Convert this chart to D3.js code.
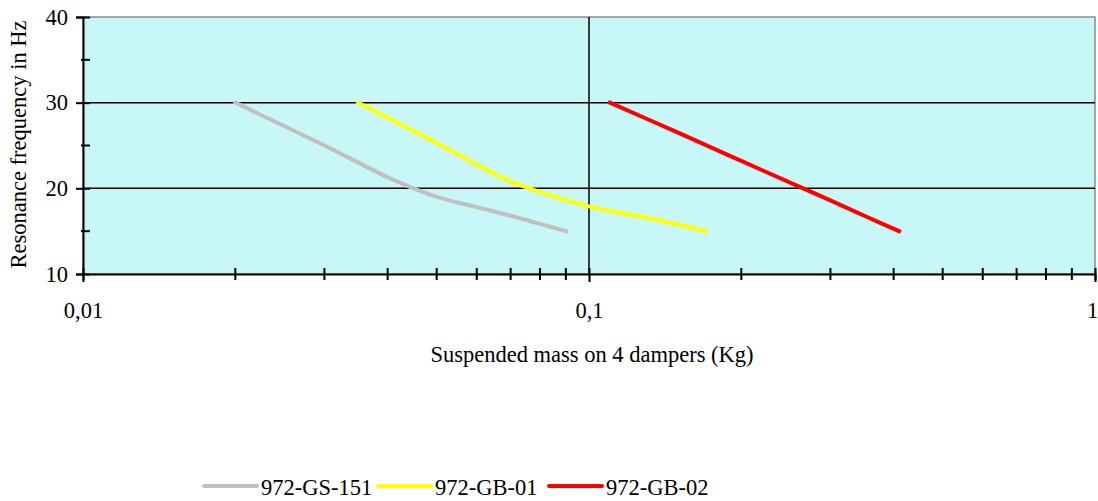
<!DOCTYPE html>
<html><head><meta charset="utf-8">
<script src="https://cdn.jsdelivr.net/npm/d3@7"></script>
<style>body{margin:0;background:#fff}svg{display:block}text{font-family:"Liberation Serif","DejaVu Serif",serif;fill:#000}</style>
</head><body><svg id="c" width="1098" height="501"></svg>
<script>
const seriesNames = ["972-GS-151", "972-GB-01", "972-GB-02"];
const seriesColors = ["#c0c0c0", "#ffff00", "#ff0000"];
const gsMass = [0.02, 0.03, 0.04, 0.045, 0.05, 0.06, 0.07, 0.08, 0.09];
const gsFreq = [30, 25.0, 21.3, 20.0, 19.0, 17.8, 16.8, 15.85, 15.0];
const gb01Mass = [0.035, 0.042, 0.053, 0.067, 0.078, 0.1, 0.132, 0.17];
const gb01Freq = [30, 27.6, 24.5, 21.3, 19.8, 17.9, 16.5, 15.0];
const gb02Mass = [0.11, 0.15, 0.2, 0.265, 0.3, 0.35, 0.41];
const gb02Freq = [30, 26.5, 23.2, 20.0, 18.6, 16.8, 15.0];
const xTickValues = [0.01, 0.1, 1];
const xTickLabels = ["0,01", "0,1", "1"];
const xMinorValues = [0.02,0.03,0.04,0.05,0.06,0.07,0.08,0.09,0.2,0.3,0.4,0.5,0.6,0.7,0.8,0.9];
const yTickValues = [10, 20, 30, 40];
const yMinorValues = [15, 25, 35];
const xTitle = "Suspended mass on 4 dampers (Kg)";
const yTitle = "Resonance frequency in Hz";

const FS = 22.5;
const svg = d3.select("#c");
const L = 83, R = 1095, T = 17, B = 274;
const x = d3.scaleLog().domain([0.01, 1]).range([L, R]);
const y = d3.scaleLinear().domain([10, 40]).range([B, T]);

svg.append("rect").attr("x", L).attr("y", T).attr("width", R - L).attr("height", B - T)
  .attr("fill", "#c8f7f7").attr("stroke", "#8a8a8a").attr("stroke-width", 1.5);

// gridlines
svg.append("g").selectAll("line").data([20, 30]).join("line")
  .attr("x1", L).attr("x2", R).attr("y1", d => y(d)).attr("y2", d => y(d))
  .attr("stroke", "#000").attr("stroke-width", 1.5);
svg.append("line").attr("x1", x(0.1)).attr("x2", x(0.1)).attr("y1", T).attr("y2", B)
  .attr("stroke", "#000").attr("stroke-width", 1.5);

// y axis
const ya = svg.append("g").attr("transform", `translate(${L},0)`)
  .call(d3.axisLeft(y).tickValues(yTickValues).tickSize(7).tickPadding(8).tickFormat(d3.format("d")));
ya.select(".domain").attr("stroke", "#000").attr("stroke-width", 2);
ya.selectAll(".tick line").attr("x2", -7).attr("x1", 7).attr("stroke-width", 2);
ya.selectAll(".tick text").attr("font-size", FS).attr("font-family", null);
svg.append("g").selectAll("line").data(yMinorValues).join("line")
  .attr("x1", L - 2).attr("x2", L + 7).attr("y1", d => y(d)).attr("y2", d => y(d))
  .attr("stroke", "#000").attr("stroke-width", 2);

// x axis
const xa = svg.append("g").attr("transform", `translate(0,${B})`)
  .call(d3.axisBottom(x).tickValues(xTickValues).tickSize(6).tickPadding(22)
    .tickFormat((d, i) => xTickLabels[i]));
xa.select(".domain").attr("stroke", "#000").attr("stroke-width", 2);
xa.selectAll(".tick line").attr("y1", -6).attr("y2", 8).attr("stroke-width", 2);
xa.selectAll(".tick text").attr("font-size", FS).attr("font-family", null)
  .attr("dx", (d, i) => i === xTickValues.length - 1 ? -3 : 0);
svg.append("g").selectAll("line").data(xMinorValues).join("line")
  .attr("x1", d => x(d)).attr("x2", d => x(d)).attr("y1", B - 6).attr("y2", B + 6)
  .attr("stroke", "#000").attr("stroke-width", 2);

// titles
svg.append("text").attr("x", 592).attr("y", 362).attr("text-anchor", "middle")
  .attr("font-size", FS).text(xTitle);
svg.append("text").attr("transform", `translate(26,${(T + B) / 2 - 1}) rotate(-90)`)
  .attr("text-anchor", "middle").attr("font-size", FS).text(yTitle);

// series
const data = [
  gsMass.map((m, i) => [m, gsFreq[i]]),
  gb01Mass.map((m, i) => [m, gb01Freq[i]]),
  gb02Mass.map((m, i) => [m, gb02Freq[i]])
];
const line = d3.line().x(d => x(d[0])).y(d => y(d[1])).curve(d3.curveCatmullRom.alpha(0.5));
svg.append("g").selectAll("path").data(data).join("path")
  .attr("d", line).attr("fill", "none").attr("stroke", (d, i) => seriesColors[i])
  .attr("stroke-width", 4).attr("stroke-linecap", "square");

// legend
const legX = [204, 378, 549];
const lg = svg.append("g").selectAll("g").data(seriesNames).join("g")
  .attr("transform", (d, i) => `translate(${legX[i]},486)`);
lg.append("line").attr("x1", 0).attr("x2", 53).attr("stroke", (d, i) => seriesColors[i])
  .attr("stroke-width", 4).attr("stroke-linecap", "round");
lg.append("text").attr("x", 57).attr("y", 9).attr("font-size", FS).text(d => d);
</script></body></html>
